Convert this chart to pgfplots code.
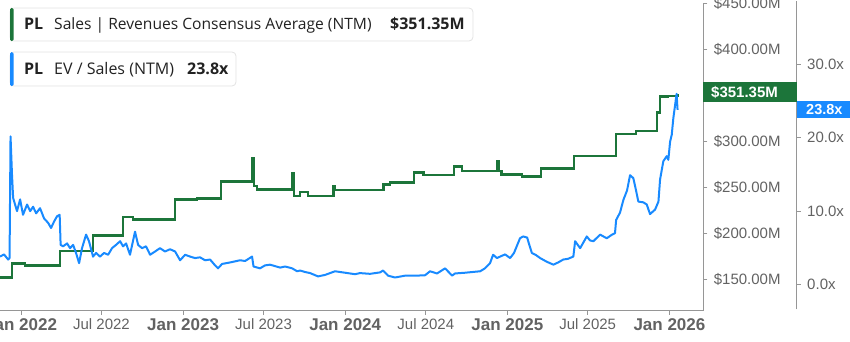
\documentclass[border=0pt]{standalone}
\usepackage{pgfplots}
\usepackage{pgfplotstable}
\pgfplotsset{compat=1.18}
\usepackage{fontspec}
\setmainfont{Liberation Sans}
\newfontfamily\legfont{Open Sans}
\definecolor{sgreen}{RGB}{28,117,58}
\definecolor{sblue}{RGB}{24,138,255}
\definecolor{axgray}{RGB}{150,150,150}
\definecolor{lblgray}{RGB}{98,98,98}
\definecolor{txt}{RGB}{34,34,34}
\definecolor{boxborder}{RGB}{226,226,226}

\pgfplotstableread{
x v
2021.870 152.5
2021.944 167.5
2022.025 165.5
2022.241 181.2
2022.444 198.2
2022.629 218.1
2022.691 215.5
2022.950 237.3
2023.086 238.4
2023.234 256.8
2023.429 281.5
2023.437 252.0
2023.454 247.8
2023.674 266.0
2023.684 241.0
2023.721 245.0
2023.772 241.0
2023.927 251.8
2023.937 247.5
2024.235 253.6
2024.276 255.4
2024.424 266.3
2024.482 263.8
2024.671 272.8
2024.719 268.2
2024.935 278.3
2024.946 268.0
2024.965 264.5
2025.089 262.0
2025.206 270.7
2025.411 284.5
2025.671 308.0
2025.794 311.6
2025.925 331.5
2025.942 348.9
2025.991 349.5
2026.050 351.35
}\salestable

\pgfplotstableread{
x e
2021.870 3.8
2021.895 4.1
2021.920 3.4
2021.929 3.6
2021.935 20.2
2021.944 15.0
2021.951 11.8
2021.963 10.9
2021.975 10.0
2021.994 11.6
2022.012 9.5
2022.037 10.9
2022.056 10.0
2022.074 10.6
2022.093 9.7
2022.117 10.4
2022.142 9.0
2022.167 8.4
2022.185 7.7
2022.204 8.6
2022.222 9.3
2022.238 9.5
2022.244 5.4
2022.259 5.2
2022.284 5.6
2022.302 4.95
2022.321 5.4
2022.339 4.3
2022.358 2.9
2022.376 4.95
2022.401 6.8
2022.419 5.9
2022.444 3.8
2022.463 4.3
2022.487 3.8
2022.512 4.3
2022.537 4.05
2022.561 4.95
2022.586 5.4
2022.611 5.9
2022.629 5.2
2022.648 5.6
2022.672 4.05
2022.703 7.2
2022.722 5.4
2022.746 4.95
2022.771 5.2
2022.796 4.05
2022.827 4.5
2022.857 4.95
2022.888 4.5
2022.919 4.8
2022.950 4.5
2022.981 3.3
2023.012 4.05
2023.043 3.8
2023.073 3.6
2023.104 3.7
2023.135 3.3
2023.166 3.4
2023.197 2.6
2023.215 2.2
2023.240 2.8
2023.289 3.0
2023.351 3.3
2023.382 3.2
2023.425 3.8
2023.434 2.45
2023.474 2.2
2023.505 2.6
2023.536 2.7
2023.567 2.5
2023.598 2.3
2023.629 2.45
2023.672 2.2
2023.703 1.8
2023.721 1.9
2023.752 1.7
2023.783 1.55
2023.832 1.1
2023.875 1.3
2023.937 1.8
2023.999 1.6
2024.060 1.4
2024.091 1.55
2024.153 1.45
2024.215 1.65
2024.233 1.9
2024.264 1.2
2024.307 0.95
2024.369 1.2
2024.431 1.2
2024.492 1.25
2024.523 1.8
2024.566 1.5
2024.616 2.2
2024.659 1.2
2024.677 1.5
2024.739 1.6
2024.832 1.8
2024.862 2.2
2024.893 2.9
2024.912 4.05
2024.936 3.6
2024.955 3.8
2024.986 4.1
2025.017 3.6
2025.041 4.3
2025.078 6.3
2025.097 6.55
2025.122 6.4
2025.134 5.5
2025.151 4.3
2025.177 4.0
2025.202 3.6
2025.243 3.1
2025.284 2.7
2025.313 3.0
2025.345 3.4
2025.374 3.5
2025.407 3.8
2025.418 5.9
2025.449 4.95
2025.490 6.55
2025.510 6.0
2025.531 5.9
2025.572 6.8
2025.613 6.3
2025.646 6.8
2025.664 7.0
2025.671 8.8
2025.695 9.8
2025.716 11.55
2025.738 12.8
2025.757 14.9
2025.777 14.5
2025.794 12.8
2025.808 11.3
2025.839 11.2
2025.860 10.9
2025.880 9.6
2025.911 10.2
2025.932 11.3
2025.942 14.3
2025.962 16.8
2025.983 17.5
2025.993 17.0
2026.004 19.5
2026.014 20.4
2026.024 22.7
2026.035 24.5
2026.044 26.0
2026.050 23.8
}\evtable

\newcommand{\janlab}[1]{{\bfseries\fontsize{17}{18}\selectfont #1}}
\begin{document}
\begin{tikzpicture}[x=1pt,y=1pt]
% Sales (dollar) axis
\begin{axis}[
  at={(0,33)}, anchor=south west,
  scale only axis, width=703.3pt, height=308pt,
  xmin=2021.870, xmax=2026.209, ymin=116.3, ymax=451.1,
  axis x line*=bottom, axis y line*=right,
  axis line style={axgray, line width=1.2pt},
  xtick={2022,2022.496,2023,2023.496,2024,2024.497,2025,2025.496,2026},
  xticklabels={\janlab{Jan 2022},Jul 2022,\janlab{Jan 2023},Jul 2023,\janlab{Jan 2024},Jul 2024,\janlab{Jan 2025},Jul 2025,\janlab{Jan 2026}},
  ytick={150,200,250,300,400,450},
  yticklabels={\$150.00M,\$200.00M,\$250.00M,\$300.00M,\$400.00M,\$450.00M},
  tick align=outside, major tick length=4pt,
  tick style={axgray, line width=1pt},
  x tick label style={font=\fontsize{15}{18}\selectfont, text=lblgray},
  y tick label style={font=\fontsize{15}{18}\selectfont, text=lblgray, xshift=3pt},
]
\addplot[const plot, sgreen, line width=2.4pt] table[x=x, y=v] {\salestable};
\end{axis}
% EV/Sales axis
\begin{axis}[
  at={(0,43)}, anchor=south west,
  scale only axis, width=796.7pt, height=308pt,
  xmin=2021.870, xmax=2026.785, ymin=-3.41, ymax=38.59,
  axis x line*=bottom, axis y line*=right,
  x axis line style={draw=none}, xtick=\empty,
  axis line style={axgray, line width=1.2pt},
  ytick={0,10,20,30},
  yticklabels={0.0x,10.0x,20.0x,30.0x},
  tick align=outside, major tick length=4pt,
  tick style={axgray, line width=1pt},
  y tick label style={font=\fontsize{15}{18}\selectfont, text=lblgray, xshift=3pt},
]
\addplot[sblue, line width=2pt, line join=round] table[x=x, y=e] {\evtable};
\end{axis}
% legend boxes
\draw[boxborder, fill=white, rounded corners=4pt, line width=0.8pt] (10,300) rectangle (473,333);
\fill[sgreen, rounded corners=1.5pt] (10,300) rectangle (13.5,333);
\node[anchor=base west, inner sep=0pt, text=txt, font=\legfont\bfseries\fontsize{16}{18}\selectfont] at (24,311.2) {PL};
\node[anchor=base west, inner sep=0pt, text=txt, font=\legfont\fontsize{15.6}{18}\selectfont] at (54,311.2) {Sales | Revenues Consensus Average (NTM)};
\node[anchor=base west, inner sep=0pt, text=txt, font=\legfont\bfseries\fontsize{16}{18}\selectfont] at (390,311.2) {\$351.35M};
\draw[boxborder, fill=white, rounded corners=4pt, line width=0.8pt] (10,255) rectangle (236,289);
\fill[sblue, rounded corners=1.5pt] (10,255) rectangle (13.5,289);
\node[anchor=base west, inner sep=0pt, text=txt, font=\legfont\bfseries\fontsize{16}{18}\selectfont] at (24,266.2) {PL};
\node[anchor=base west, inner sep=0pt, text=txt, font=\legfont\fontsize{16}{18}\selectfont] at (54,266.2) {EV / Sales (NTM)};
\node[anchor=base west, inner sep=0pt, text=txt, font=\legfont\bfseries\fontsize{16}{18}\selectfont] at (187,266.2) {23.8x};
% value tags
\fill[sgreen] (703.3,239) rectangle (796.7,259);
\node[anchor=base west, inner sep=0pt, text=white, font=\bfseries\fontsize{15}{17}\selectfont] at (711,243.6) {\$351.35M};
\fill[sblue] (796.7,222.7) rectangle (850,240.3);
\node[anchor=base west, inner sep=0pt, text=white, font=\bfseries\fontsize{14.5}{17}\selectfont] at (806,226.3) {23.8x};
\pgfresetboundingbox
\path[use as bounding box] (0,0) rectangle (850,341);
\end{tikzpicture}
\end{document}
